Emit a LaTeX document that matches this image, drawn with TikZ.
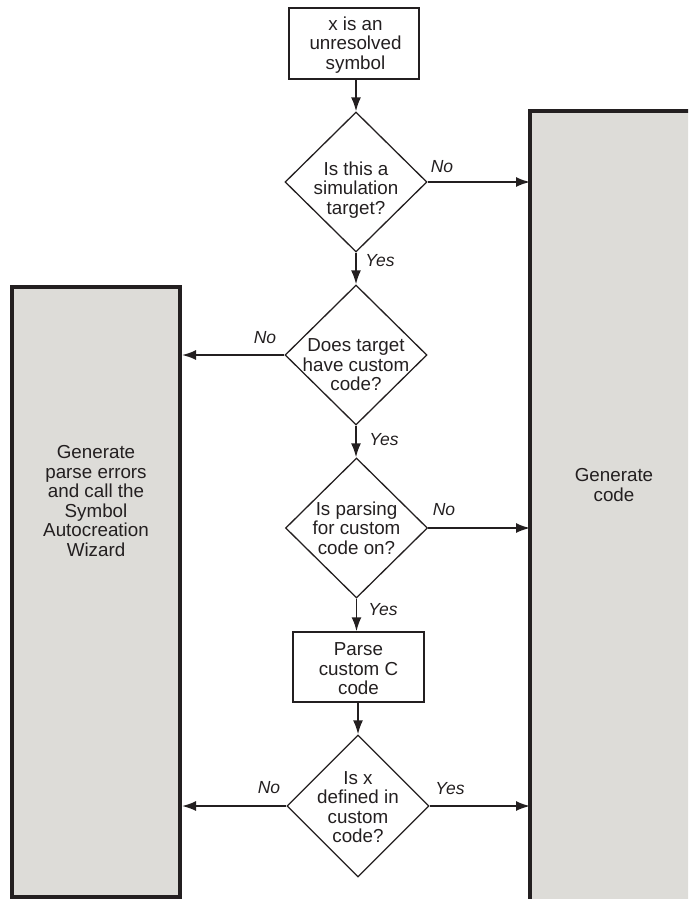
\documentclass[tikz,border=0pt]{standalone}
\usepackage{fontspec}
\setmainfont{Liberation Sans}
\usetikzlibrary{shapes.geometric,arrows.meta}
\definecolor{ink}{RGB}{35,31,32}
\definecolor{panel}{RGB}{221,220,216}
\begin{document}
\begin{tikzpicture}[x=1pt,y=-1pt,
  txt/.style={align=center,font=\fontsize{18.8}{19.5}\selectfont,text=ink,inner sep=0},
  lbl/.style={font=\fontsize{17.5}{20}\selectfont\itshape,text=ink,inner sep=0},
  dec/.style={diamond,draw=ink,line width=1.3pt,minimum width=142pt,minimum height=140pt,inner sep=0},
  procbox/.style={rectangle,draw=ink,line width=2pt,inner sep=0},
  panelbox/.style={rectangle,draw=ink,fill=panel,line width=4pt,inner sep=0},
  panelfill/.style={rectangle,fill=panel,inner sep=0,outer sep=2pt},
  edge/.style={draw=ink,line width=4pt},
  conn/.style={draw=ink,line width=1.8pt,-{Latex[length=14pt,width=10pt]}},
]
\useasboundingbox (0,0) rectangle (688,899);
\clip (0,0) rectangle (688,899);

% side panels
\node[panelbox,minimum width=168pt,minimum height=610pt] (lbox) at (96,592) {};
\node[panelfill,minimum width=160pt,minimum height=790pt] (rbox) at (612,508) {};
\draw[edge,line cap=rect] (rbox.south west) -- (rbox.north west) -- (rbox.north east);
\node[txt] (ltext) at (96,501) {Generate\\parse errors\\and call the\\Symbol\\Autocreation\\Wizard};
\node[txt] (rtext) at (614,485) {Generate\\code};

% process boxes
\node[procbox,minimum width=130pt,minimum height=70.5pt] (b1) at (353.5,43.25) {};
\node[txt] (b1t) at (355.5,45) {x is an\\unresolved\\symbol};
\node[procbox,minimum width=131pt,minimum height=69.5pt] (pb) at (358.5,667) {};
\node[txt] (pbt) at (358.5,669) {Parse\\custom C\\code};

% decisions
\node[dec] (d1) at (356,182) {};
\node[txt] (d1t) at (356,190) {Is this a\\simulation\\target?};
\node[dec] (d2) at (356,355) {};
\node[txt] (d2t) at (356,365) {Does target\\have custom\\code?};
\node[dec] (d3) at (356.5,528) {};
\node[txt] (d3t) at (356.5,528) {Is parsing\\for custom\\code on?};
\node[dec,minimum height=142pt] (d4) at (358,806) {};
\node[txt] (d4t) at (358,807) {Is x\\defined in\\custom\\code?};

% connectors
\draw[conn] (b1.south -| d1.north) -- (d1.north);
\draw[conn] (d1.east) -- (d1.east -| rbox.west);
\draw[conn] (d1.south) -- (d2.north);
\draw[conn] (d2.west) -- (d2.west -| lbox.east);
\draw[conn] (d2.south) -- (d2.south |- d3.north);
\draw[conn] (d3.east) -- (d3.east -| rbox.west);
\draw[conn] (d3.south) -- (d3.south |- pb.north);
\draw[conn] (pb.south -| d4.north) -- (d4.north);
\draw[conn] (d4.west) -- (d4.west -| lbox.east);
\draw[conn] (d4.east) -- (d4.east -| rbox.west);

% labels
\node[lbl] (l1n) at (442,167) {No};
\node[lbl] (l1y) at (380,261) {Yes};
\node[lbl] (l2n) at (265,338) {No};
\node[lbl] (l2y) at (384,440) {Yes};
\node[lbl] (l3n) at (444,510) {No};
\node[lbl] (l3y) at (383,610) {Yes};
\node[lbl] (l4n) at (269,788) {No};
\node[lbl] (l4y) at (450,789) {Yes};
\end{tikzpicture}
\end{document}
